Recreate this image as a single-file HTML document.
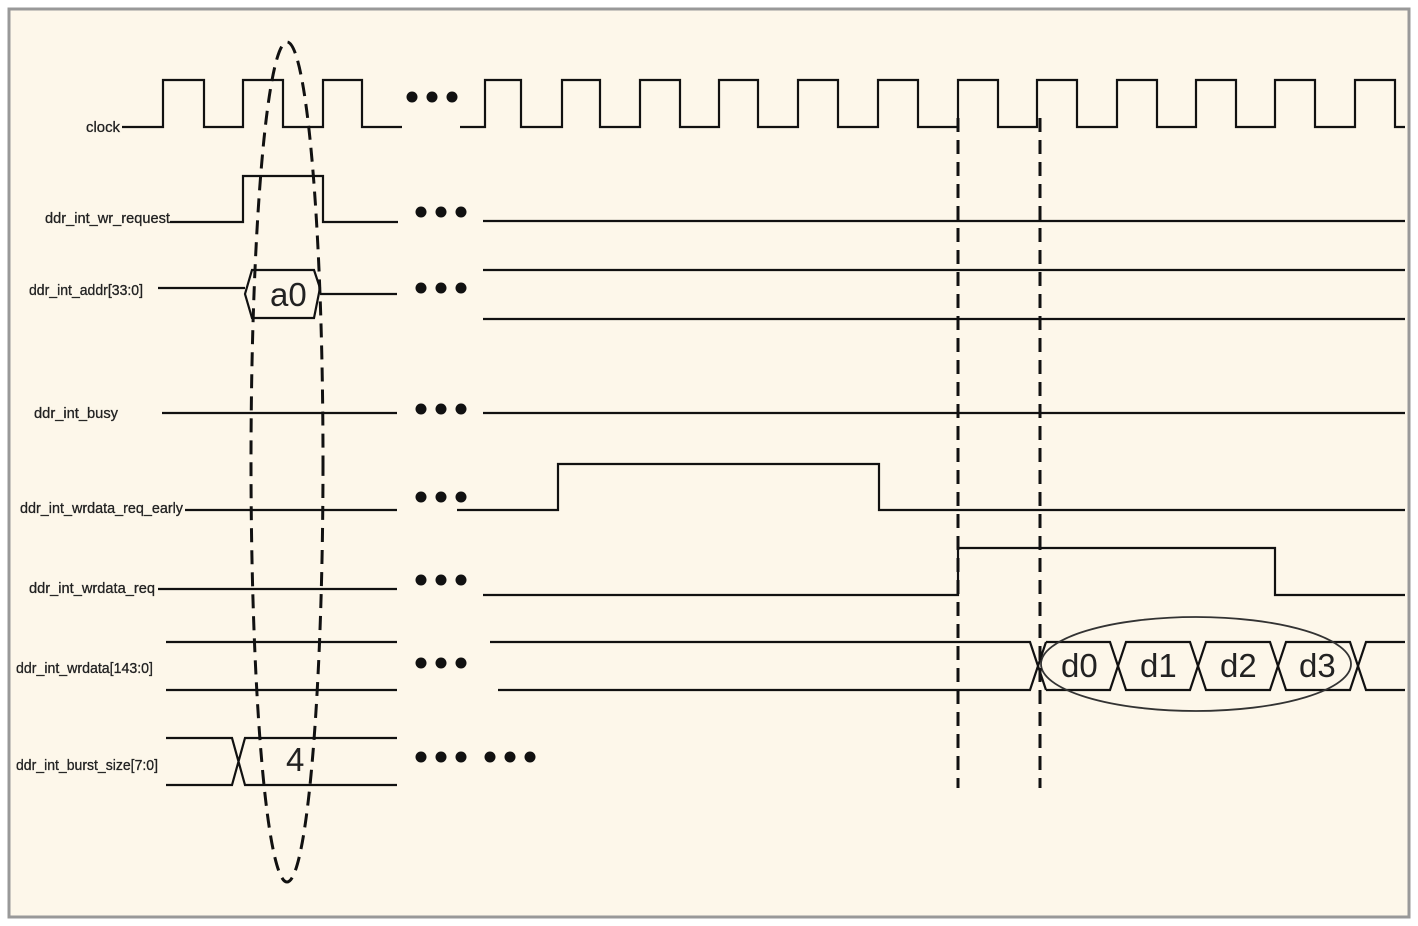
<!DOCTYPE html>
<html><head><meta charset="utf-8"><style>
html,body{margin:0;padding:0;background:#fff;}
svg{display:block;}
text{font-family:"Liberation Sans",sans-serif;}
.l{font-size:15px;fill:#222;stroke:#222;stroke-width:0.3;}
.v{font-size:33px;fill:#222;}
</style></head><body>
<svg width="1418" height="926" viewBox="0 0 1418 926" xmlns="http://www.w3.org/2000/svg">
<rect x="0" y="0" width="1418" height="926" fill="#fff"/>
<rect x="9" y="9" width="1400" height="908" fill="#fdf7ea" stroke="#999" stroke-width="3"/>
<g stroke="#111" stroke-width="2.2" fill="none">
<path d="M122 127H163V80H204V127H243V80H283V127H323V80H362V127H402"/>
<path d="M460 127H485V80H521V127H562V80H600V127H640V80H680V127H719V80H758V127H798V80H838V127H878V80H918V127H958V80H998V127H1037V80H1077V127H1117V80H1157V127H1196V80H1236V127H1275V80H1315V127H1355V80H1395V127H1405"/>
<path d="M170 222H243V176H323V222H398"/>
<path d="M483 221H1405"/>
<path d="M158 288H245"/>
<path d="M252 270H314L320 288L314 318H252L245 294Z"/>
<path d="M320 294H397"/>
<path d="M483 270H1405M483 319H1405"/>
<path d="M162 413H397M483 413H1405"/>
<path d="M185 510H397M457 510H558V464H879V510H1405"/>
<path d="M158 589H397M483 595H958V548H1275V595H1405"/>
<path d="M166 642H397M166 690H397"/>
<path d="M490 642H1030L1046 690M498 690H1030L1046 642"/>
<path d="M1046 642H1110L1126 690H1190L1206 642H1270L1286 690H1350L1366 642H1405"/>
<path d="M1046 690H1110L1126 642H1190L1206 690H1270L1286 642H1350L1366 690H1405"/>
<path d="M166 738H232L245 785H397M166 785H232L245 738H397"/>
</g>
<ellipse cx="1196" cy="664" rx="155" ry="47" fill="none" stroke="#333" stroke-width="1.8"/>
<g stroke="#111" stroke-width="3" fill="none" stroke-dasharray="14,8">
<path d="M958 118V788M1040 118V788"/>
<ellipse cx="287" cy="462" rx="36" ry="420"/>
</g>
<g fill="#111">
<circle cx="412" cy="97" r="5.5"/><circle cx="432" cy="97" r="5.5"/><circle cx="452" cy="97" r="5.5"/>
<circle cx="421" cy="212" r="5.5"/><circle cx="441" cy="212" r="5.5"/><circle cx="461" cy="212" r="5.5"/>
<circle cx="421" cy="288" r="5.5"/><circle cx="441" cy="288" r="5.5"/><circle cx="461" cy="288" r="5.5"/>
<circle cx="421" cy="409" r="5.5"/><circle cx="441" cy="409" r="5.5"/><circle cx="461" cy="409" r="5.5"/>
<circle cx="421" cy="497" r="5.5"/><circle cx="441" cy="497" r="5.5"/><circle cx="461" cy="497" r="5.5"/>
<circle cx="421" cy="580" r="5.5"/><circle cx="441" cy="580" r="5.5"/><circle cx="461" cy="580" r="5.5"/>
<circle cx="421" cy="663" r="5.5"/><circle cx="441" cy="663" r="5.5"/><circle cx="461" cy="663" r="5.5"/>
<circle cx="421" cy="757" r="5.5"/><circle cx="441" cy="757" r="5.5"/><circle cx="461" cy="757" r="5.5"/>
<circle cx="490" cy="757" r="5.5"/><circle cx="510" cy="757" r="5.5"/><circle cx="530" cy="757" r="5.5"/>
</g>
<text class="l" x="86" y="132" textLength="34" lengthAdjust="spacingAndGlyphs">clock</text>
<text class="l" x="45" y="223" textLength="125" lengthAdjust="spacingAndGlyphs">ddr_int_wr_request</text>
<text class="l" x="29" y="295" textLength="114" lengthAdjust="spacingAndGlyphs">ddr_int_addr[33:0]</text>
<text class="l" x="34" y="418" textLength="84" lengthAdjust="spacingAndGlyphs">ddr_int_busy</text>
<text class="l" x="20" y="513" textLength="163" lengthAdjust="spacingAndGlyphs">ddr_int_wrdata_req_early</text>
<text class="l" x="29" y="593" textLength="126" lengthAdjust="spacingAndGlyphs">ddr_int_wrdata_req</text>
<text class="l" x="16" y="673" textLength="137" lengthAdjust="spacingAndGlyphs">ddr_int_wrdata[143:0]</text>
<text class="l" x="16" y="770" textLength="142" lengthAdjust="spacingAndGlyphs">ddr_int_burst_size[7:0]</text>
<text class="v" x="270" y="306">a0</text>
<text class="v" x="286" y="771">4</text>
<text class="v" x="1061" y="677">d0</text>
<text class="v" x="1140" y="677">d1</text>
<text class="v" x="1220" y="677">d2</text>
<text class="v" x="1299" y="677">d3</text>
</svg>
</body></html>
